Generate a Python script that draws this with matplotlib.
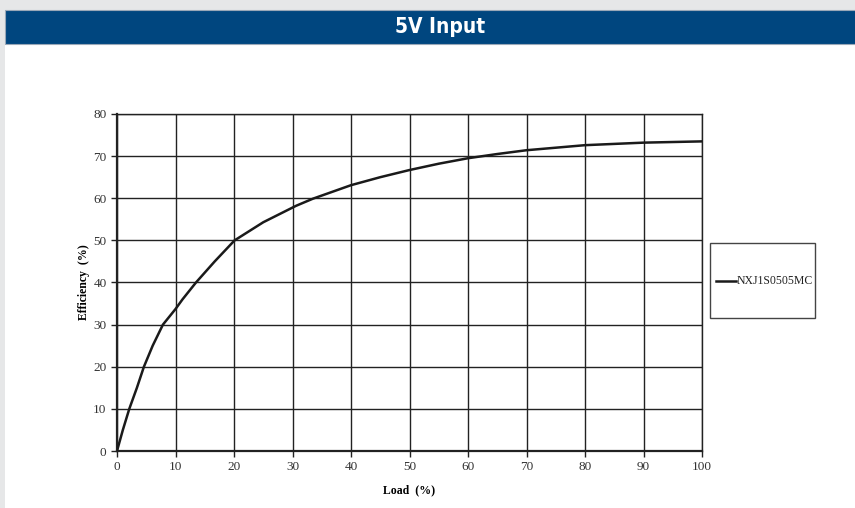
import matplotlib.pyplot as plt
from matplotlib.patches import Rectangle
from matplotlib.lines import Line2D

# efficiency curve
load_pct = [0, 1, 2.1, 3.4, 4.6, 6.1, 7.85, 10, 11.2, 13.5, 16.7, 20.1, 25, 30.6,
            33.5, 40, 45, 50, 55, 60, 65, 70, 80, 90, 100]
eff_pct = [0, 5, 10, 15, 20, 25, 30, 33.7, 36, 40, 45.0, 50, 54.3, 58.2,
           59.9, 63.1, 65.0, 66.7, 68.2, 69.5, 70.5, 71.4, 72.6, 73.2, 73.5]
series_name = 'NXJ1S0505MC'
title = '5V Input'
x_ticks = [0, 10, 20, 30, 40, 50, 60, 70, 80, 90, 100]
y_ticks = [0, 10, 20, 30, 40, 50, 60, 70, 80]

W, H = 855, 508
fig = plt.figure(figsize=(W/100, H/100), dpi=100)
fig.patch.set_facecolor('#e6e7e8')

# white panel + blue header bar
fig.patches.append(Rectangle((5/W, 0), 1, 1-44/H, transform=fig.transFigure,
                             facecolor='white', edgecolor='none', zorder=-2))
fig.patches.append(Rectangle((5/W, 1-44/H), 1, 34/H, transform=fig.transFigure,
                             facecolor='#00467f', edgecolor='#9aa8b8', lw=0.8, zorder=-2))
fig.text(440/W, 1-27/H, title, color='white', fontsize=15, fontweight='bold',
         family=['DejaVu Sans'], fontstretch='condensed', ha='center', va='center')

ax = fig.add_axes([117/W, (H-451)/H, 585/W, 337/H])
ax.set_zorder(2)
ax.plot(load_pct, eff_pct, color='#1a1a1a', lw=1.8, solid_joinstyle='round', zorder=3)
ax.set_xlim(0, 100)
ax.set_ylim(0, 80)
ax.set_xticks(x_ticks)
ax.set_yticks(y_ticks)
ax.grid(True, color='#222222', lw=1.0)
ax.set_axisbelow(True)
for s in ax.spines.values():
    s.set_color('#222222')
    s.set_linewidth(1.0)
ax.spines['left'].set_linewidth(1.6)
ax.spines['bottom'].set_linewidth(1.6)
serif = ['Liberation Serif', 'DejaVu Serif']
ax.tick_params(direction='out', length=4, width=1, color='#222222',
               labelsize=9.5, labelcolor='#333333')
for lab in ax.get_xticklabels() + ax.get_yticklabels():
    lab.set_family(serif)
ax.set_xlabel('Load  (%)', family=serif, fontsize=8.5, fontweight='bold', labelpad=8)
ax.set_ylabel('Efficiency  (%)', family=serif, fontsize=8.5, fontweight='bold', labelpad=2)

# legend box outside the plot area
fig.patches.append(Rectangle((710/W, (H-318)/H), 105/W, 75/H, transform=fig.transFigure,
                             facecolor='white', edgecolor='#444444', lw=1.0, zorder=1))
fig.lines.append(Line2D([716/W, 736/W], [(H-281)/H]*2, transform=fig.transFigure,
                        color='#1a1a1a', lw=1.8))
fig.text(737/W, (H-281)/H, series_name, family=serif, fontsize=8.5, color='#222222',
         ha='left', va='center')

fig.savefig('out.png', dpi=100, facecolor=fig.get_facecolor())
